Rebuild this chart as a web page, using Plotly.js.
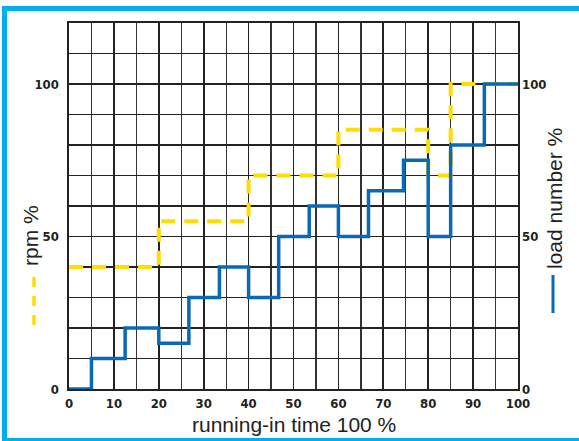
<!DOCTYPE html>
<html>
<head>
<meta charset="utf-8">
<script src="https://cdn.plot.ly/plotly-3.0.1.min.js"></script>
<style>html,body{margin:0;padding:0;background:#fff;}#chart{width:579px;height:441px;}</style>
</head>
<body>
<div id="chart"></div>
<script>
// running-in time (%) breakpoints and values
const loadTime  = [0, 5, 12.5, 20, 26.7, 33.5, 40, 46.7, 53.5, 60, 66.7, 74.5, 80, 85, 92.5, 100];
const loadValue = [0, 10, 20, 15, 30, 40, 30, 50, 60, 50, 65, 75, 50, 80, 100, 100];
const rpmTime   = [0, 20, 40, 60, 80, 85, 100];
const rpmValue  = [40, 55, 70, 85, 70, 100, 100];
const xTicks = [0, 10, 20, 30, 40, 50, 60, 70, 80, 90, 100];
const yTicks = [0, 50, 100];

// pixel -> paper helpers (layout only)
const L = 69, R = 518, T = 23, B = 389;
const px = x => (x - L) / (R - L);
const py = y => (B - y) / (B - T);

const cyan = '#00AEEF';
const blue = '#0A69B5';
const yellow = '#FFDD00';
const ink = '#222222';
const tickFont = {family: 'Liberation Sans Narrow, DejaVu Sans Condensed, Arial Narrow, sans-serif', size: 13, color: ink, weight: 'bold'};
const titleFont = {family: 'Liberation Sans, Arial, sans-serif', size: 21, color: ink};

const traces = [
  {x: loadTime, y: loadValue, type: 'scatter', mode: 'lines', line: {shape: 'hv', color: blue, width: 3.5}, yaxis: 'y2', hoverinfo: 'skip'},
  {x: rpmTime, y: rpmValue, type: 'scatter', mode: 'lines', line: {shape: 'hv', color: yellow, width: 4, dash: '14px,9px'}, hoverinfo: 'skip'}
];

const layout = {
  width: 579, height: 441,
  margin: {l: L, r: 579 - R, t: T, b: 441 - B, pad: 0},
  paper_bgcolor: '#fff', plot_bgcolor: '#fff',
  showlegend: false,
  xaxis: {
    range: [0, 100], tickvals: xTicks, ticks: '', showgrid: true, gridcolor: ink, gridwidth: 1.6,
    minor: {dtick: 5, showgrid: true, gridcolor: '#333', gridwidth: 1.3},
    showline: true, linecolor: ink, linewidth: 1.6, mirror: true, zeroline: false,
    tickfont: tickFont, ticklabelstandoff: 2
  },
  yaxis: {
    range: [0, 120], tickvals: yTicks, ticks: '', showgrid: true, gridcolor: ink, gridwidth: 1.6,
    minor: {dtick: 10, showgrid: true, gridcolor: ink, gridwidth: 1.6},
    showline: true, linecolor: ink, linewidth: 1.6, mirror: true, zeroline: false,
    tickfont: tickFont, ticklabelstandoff: 6
  },
  yaxis2: {
    range: [0, 120], tickvals: yTicks, ticks: '', overlaying: 'y', side: 'right', showgrid: false,
    zeroline: false, showline: false, tickfont: tickFont, ticklabelstandoff: 3
  },
  annotations: [
    {text: 'running-in time 100 %', xref: 'paper', yref: 'paper', x: 0.5, y: py(424), showarrow: false,
     font: titleFont, xanchor: 'center', yanchor: 'middle'},
    {text: 'rpm %', xref: 'paper', yref: 'paper', x: px(30), y: py(236), showarrow: false, textangle: -90,
     font: titleFont, xanchor: 'center', yanchor: 'middle'},
    {text: 'load number %', xref: 'paper', yref: 'paper', x: px(554), y: py(199), showarrow: false, textangle: -90,
     font: titleFont, xanchor: 'center', yanchor: 'middle'}
  ],
  shapes: [
    {type: 'line', xref: 'paper', yref: 'paper', x0: px(34), x1: px(34), y0: py(277), y1: py(332), line: {color: yellow, width: 3.5, dash: '10px,9px'}},
    {type: 'line', xref: 'paper', yref: 'paper', x0: px(553), x1: px(553), y0: py(275), y1: py(313), line: {color: blue, width: 3}},
    {type: 'rect', xref: 'paper', yref: 'paper', x0: px(2), x1: px(590), y0: py(11), y1: py(6), fillcolor: cyan, line: {width: 0}},
    {type: 'rect', xref: 'paper', yref: 'paper', x0: px(2), x1: px(7), y0: py(445), y1: py(6), fillcolor: cyan, line: {width: 0}},
    {type: 'rect', xref: 'paper', yref: 'paper', x0: px(2), x1: px(590), y0: py(445), y1: py(438), fillcolor: cyan, line: {width: 0}}
  ]
};

Plotly.newPlot('chart', traces, layout, {staticPlot: true, displayModeBar: false});
</script>
</body>
</html>
